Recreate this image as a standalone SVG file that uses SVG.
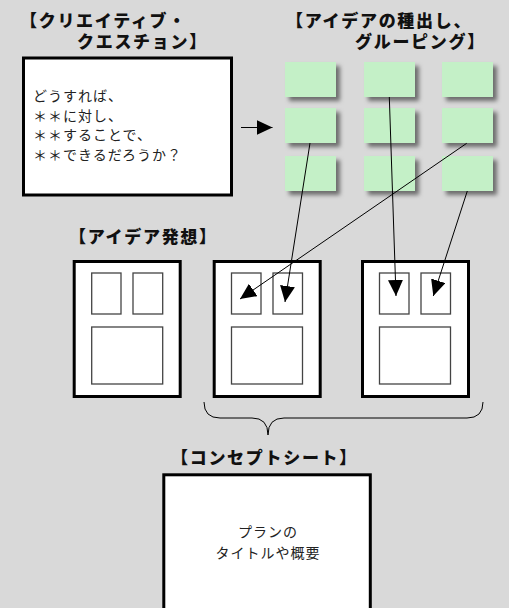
<svg xmlns="http://www.w3.org/2000/svg" width="509" height="608" viewBox="0 0 509 608">
  <style>
    .title { font-family: "Noto Sans CJK JP", "Noto Sans", sans-serif; font-weight: 900; font-size: 17px; letter-spacing: 1.7px; fill: #111; }
    .body { font-family: "Noto Sans CJK JP", "Noto Sans", sans-serif; font-size: 14px; letter-spacing: 1px; fill: #222; }
    .sheet { fill: #fff; stroke: #000; stroke-width: 3; }
    .inner { fill: #fff; stroke: #444; stroke-width: 1.3; }
    .card { fill: #c4f0c7; filter: url(#shadow); }
    .conn { stroke: #000; stroke-width: 1; fill: none; }
  </style>
  <defs>
    <filter id="shadow" x="-20%" y="-20%" width="150%" height="160%">
      <feDropShadow dx="4" dy="4" stdDeviation="2.2" flood-color="#000" flood-opacity="0.5"/>
    </filter>
    <marker id="ah" markerUnits="userSpaceOnUse" markerWidth="16" markerHeight="15" refX="16" refY="7.5" orient="auto">
      <path d="M0,0 L16,7.5 L0,15 Z" fill="#000"/>
    </marker>
  </defs>
  <rect x="0" y="0" width="509" height="608" fill="#d9d9d9"/>

  <g id="title-question">
    <text class="title" x="20" y="27">【クリエイティブ・</text>
    <text class="title" x="77" y="48">クエスチョン】</text>
  </g>
  <g id="title-ideas">
    <text class="title" x="286" y="27">【アイデアの種出し、</text>
    <text class="title" x="355" y="48">グルーピング】</text>
  </g>
  <g id="title-hassou">
    <text class="title" x="69" y="243">【アイデア発想】</text>
  </g>
  <g id="title-concept">
    <text class="title" x="171" y="464">【コンセプトシート】</text>
  </g>

  <g id="question">
    <rect class="sheet" x="23.5" y="58" width="208" height="137"/>
    <text class="body" x="33" y="101">どうすれば、</text>
    <text class="body" x="33" y="120.5">＊＊に対し、</text>
    <text class="body" x="33" y="140">＊＊することで、</text>
    <text class="body" x="33" y="159.5">＊＊できるだろうか？</text>
  </g>

  <g id="cards">
    <rect class="card" x="285" y="62" width="51" height="35"/>
    <rect class="card" x="364" y="62" width="51" height="35"/>
    <rect class="card" x="442" y="62" width="51" height="35"/>
    <rect class="card" x="285" y="108" width="51" height="35"/>
    <rect class="card" x="364" y="108" width="51" height="35"/>
    <rect class="card" x="442" y="108" width="51" height="35"/>
    <rect class="card" x="285" y="156" width="51" height="35"/>
    <rect class="card" x="364" y="156" width="51" height="35"/>
    <rect class="card" x="442" y="156" width="51" height="35"/>
  </g>

  <g id="sheet1">
    <rect class="sheet" x="74.2" y="261.5" width="106" height="135"/>
    <rect class="inner" x="91.7" y="273" width="29.3" height="41"/>
    <rect class="inner" x="133" y="273" width="29.7" height="41"/>
    <rect class="inner" x="91.7" y="327" width="71" height="57"/>
  </g>
  <g id="sheet2">
    <rect class="sheet" x="214.2" y="261.5" width="106" height="135"/>
    <rect class="inner" x="231.5" y="273" width="29.5" height="41"/>
    <rect class="inner" x="273" y="273" width="29.5" height="41"/>
    <rect class="inner" x="231.5" y="327" width="71" height="57"/>
  </g>
  <g id="sheet3">
    <rect class="sheet" x="362.5" y="261.5" width="106" height="135"/>
    <rect class="inner" x="379.5" y="273" width="29.5" height="41"/>
    <rect class="inner" x="421" y="273" width="29.5" height="41"/>
    <rect class="inner" x="379.5" y="327" width="71" height="57"/>
  </g>

  <g id="concept">
    <rect class="sheet" x="163.8" y="474.8" width="206.5" height="160"/>
    <text class="body" x="268" y="537" text-anchor="middle">プランの</text>
    <text class="body" x="268" y="558" text-anchor="middle">タイトルや概要</text>
  </g>

  <g id="connectors">
    <line class="conn" x1="241" y1="127.5" x2="272.5" y2="127.5" marker-end="url(#ah)"/>
    <line class="conn" x1="310" y1="143" x2="285" y2="302" marker-end="url(#ah)"/>
    <line class="conn" x1="389.3" y1="97" x2="396" y2="296" marker-end="url(#ah)"/>
    <line class="conn" x1="466.7" y1="143.3" x2="240" y2="299" marker-end="url(#ah)"/>
    <line class="conn" x1="467.3" y1="191" x2="433.3" y2="296" marker-end="url(#ah)"/>
    <path class="conn" d="M204,402 Q204,418 220,418 L252,418 Q268,418 268,435 Q268,418 284,418 L467,418 Q483,418 483,402"/>
  </g>
</svg>
